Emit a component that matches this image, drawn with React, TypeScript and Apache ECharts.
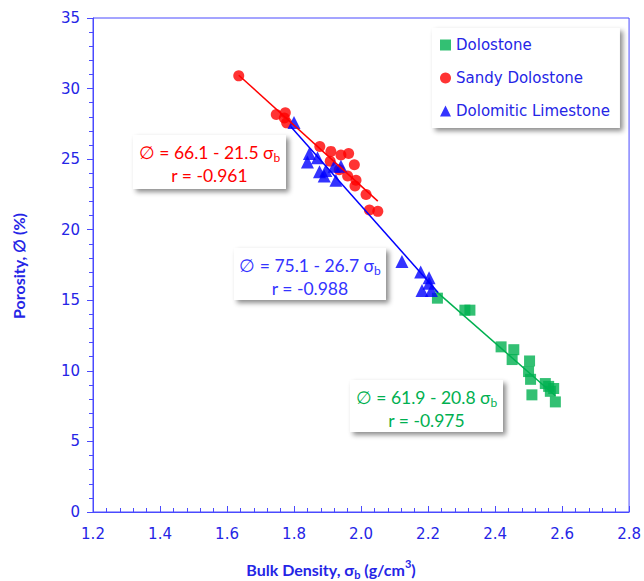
import React, { useEffect, useRef } from 'react';
import * as echarts from 'echarts';

// ---- Data ----
const dolostoneX = [2.228, 2.31, 2.325, 2.418, 2.456, 2.451, 2.503, 2.5, 2.506, 2.51, 2.55, 2.56, 2.575, 2.565, 2.58];
const dolostoneY = [15.15, 14.3, 14.3, 11.7, 11.5, 10.8, 10.7, 9.95, 9.4, 8.3, 9.1, 8.9, 8.75, 8.55, 7.8];

const sandyX = [1.635, 1.747, 1.774, 1.778, 1.771, 1.877, 1.91, 1.94, 1.963, 1.98, 1.908, 1.935, 1.96, 1.985, 1.982, 2.015, 2.025, 2.05];
const sandyY = [30.9, 28.16, 28.28, 27.57, 27.92, 25.9, 25.55, 25.3, 25.4, 24.6, 24.85, 24.25, 23.8, 23.5, 23.1, 22.5, 21.4, 21.3];

const limestoneX = [1.8, 1.846, 1.84, 1.87, 1.876, 1.895, 1.92, 1.925, 1.94, 1.89, 2.122, 2.178, 2.203, 2.203, 2.182, 2.21];
const limestoneY = [27.6, 25.4, 24.8, 25.1, 24.1, 24.2, 24.5, 23.5, 24.5, 23.8, 17.75, 17.0, 16.6, 16.2, 15.7, 15.7];

// regression lines: [intercept, slope], x range
const dolostoneFitCoef = [61.9, -20.8];
const dolostoneFitRange = [2.22, 2.58];
const sandyFitCoef = [66.1, -21.5];
const sandyFitRange = [1.635, 2.05];
const limestoneFitCoef = [75.1, -26.7];
const limestoneFitRange = [1.79, 2.23];

const seriesNames = ['Dolostone', 'Sandy Dolostone', 'Dolomitic Limestone'];
const xTickRange = [1.2, 2.8, 0.2];
const yTickRange = [0, 35, 5];

const GREEN = '#00b050';
const RED = '#ff0000';
const BLUE = '#0000ff';
const AXIS = '#4a4aff';
const TEXT = '#2525e6';

function pairs(xs: number[], ys: number[]) {
  return xs.map((x, i) => [x, ys[i]]);
}
function fitLine(coef: number[], range: number[]) {
  return range.map((x) => [x, coef[0] + coef[1] * x]);
}

function annotation(x: number, y: number, w: number, h: number, color: string, line1: string, sub: string, line2: string) {
  return {
    type: 'group',
    x,
    y,
    children: [
      {
        type: 'rect',
        shape: { x: 0, y: 0, width: w, height: h },
        style: {
          fill: '#ffffff',
          shadowBlur: 5,
          shadowColor: 'rgba(0,0,0,0.45)',
          shadowOffsetX: 3,
          shadowOffsetY: 3,
        },
        z: 100,
      },
      {
        type: 'text',
        x: w / 2,
        y: 6,
        style: {
          text: line1 + '{s|' + sub + '}',
          fill: color,
          fontFamily: 'Lato',
          fontSize: 17.5,
          lineHeight: 22,
          align: 'center',
          verticalAlign: 'top',
          rich: {
            s: { fontSize: 12, fontFamily: 'Lato', fill: color, color, lineHeight: 12, verticalAlign: 'bottom' },
          },
        },
        z: 101,
      },
      {
        type: 'text',
        x: w / 2,
        y: 30,
        style: {
          text: line2,
          fill: color,
          fontFamily: 'Lato',
          fontSize: 17.5,
          lineHeight: 20,
          align: 'center',
          verticalAlign: 'top',
        },
        z: 101,
      },
    ],
  };
}

export default function App() {
  const ref = useRef<HTMLDivElement>(null);
  useEffect(() => {
    if (!ref.current) return;
    const chart = echarts.init(ref.current, undefined, { renderer: 'svg' });
    const option: any = {
      animation: false,
      backgroundColor: '#ffffff',
      grid: {
        left: 93,
        right: 13,
        top: 18,
        bottom: 69,
        show: true,
        borderColor: AXIS,
        borderWidth: 1,
        backgroundColor: 'transparent',
      },
      legend: {
        data: [
          { name: seriesNames[0], icon: 'rect' },
          { name: seriesNames[1], icon: 'circle' },
          { name: seriesNames[2], icon: 'triangle' },
        ],
        orient: 'vertical',
        left: 432,
        top: 28,
        itemWidth: 11,
        itemHeight: 11,
        itemGap: 15,
        padding: [8, 10, 8, 8],
        backgroundColor: '#ffffff',
        shadowBlur: 5,
        shadowColor: 'rgba(0,0,0,0.45)',
        shadowOffsetX: 3,
        shadowOffsetY: 3,
        textStyle: { color: TEXT, fontFamily: 'DejaVu Sans', fontSize: 15, lineHeight: 18 },
        selectedMode: false,
        z: 50,
      },
      xAxis: {
        type: 'value',
        min: xTickRange[0],
        max: xTickRange[1],
        interval: xTickRange[2],
        axisLine: { show: true, lineStyle: { color: AXIS, width: 1 } },
        axisTick: { show: true, inside: true, length: 6, lineStyle: { color: AXIS } },
        minorTick: { show: true, splitNumber: 5, length: 4, lineStyle: { color: AXIS } },
        splitLine: { show: false },
        axisLabel: {
          color: TEXT,
          fontFamily: 'DejaVu Sans',
          fontSize: 15,
          margin: 14,
          formatter: (v: number) => v.toFixed(1),
        },
      },
      yAxis: {
        type: 'value',
        min: yTickRange[0],
        max: yTickRange[1],
        interval: yTickRange[2],
        axisLine: { show: true, lineStyle: { color: AXIS, width: 1 } },
        axisTick: { show: true, inside: false, length: 6, lineStyle: { color: AXIS } },
        minorTick: { show: true, splitNumber: 5, length: 4, lineStyle: { color: AXIS } },
        splitLine: { show: false },
        axisLabel: { color: TEXT, fontFamily: 'DejaVu Sans', fontSize: 15, margin: 13 },
      },
      series: [
        {
          name: 'fitDolostone',
          type: 'line',
          data: fitLine(dolostoneFitCoef, dolostoneFitRange),
          showSymbol: false,
          lineStyle: { color: GREEN, width: 1.5 },
          z: 2,
        },
        {
          name: seriesNames[0],
          type: 'scatter',
          data: pairs(dolostoneX, dolostoneY),
          symbol: 'rect',
          symbolSize: 11,
          itemStyle: { color: GREEN },
          z: 3,
        },
        {
          name: seriesNames[1],
          type: 'scatter',
          data: pairs(sandyX, sandyY),
          symbol: 'circle',
          symbolSize: 11,
          itemStyle: { color: RED },
          z: 3,
        },
        {
          name: 'fitLimestone',
          type: 'line',
          data: fitLine(limestoneFitCoef, limestoneFitRange),
          showSymbol: false,
          lineStyle: { color: BLUE, width: 1.5 },
          z: 4,
        },
        {
          name: seriesNames[2],
          type: 'scatter',
          data: pairs(limestoneX, limestoneY),
          symbol: 'triangle',
          symbolSize: 13,
          itemStyle: { color: BLUE },
          z: 4,
        },
        {
          name: 'fitSandy',
          type: 'line',
          data: fitLine(sandyFitCoef, sandyFitRange),
          showSymbol: false,
          lineStyle: { color: RED, width: 1.5 },
          z: 5,
        },
      ],
      graphic: [
        annotation(133, 135, 153, 54, RED, '\u2205 = 66.1 - 21.5 \u03c3', 'b', 'r = -0.961'),
        annotation(234, 248, 152, 52, '#3333ff', '\u2205 = 75.1 - 26.7 \u03c3', 'b', 'r = -0.988'),
        annotation(350, 380, 153, 52, '#00b050', '\u2205 = 61.9 - 20.8 \u03c3', 'b', 'r = -0.975'),
        {
          type: 'text',
          x: 331,
          y: 569,
          style: {
            text: 'Bulk Density, \u03c3{s|b} (g/cm{p|3})',
            fill: TEXT,
            fontFamily: 'Lato',
            fontWeight: 'bold',
            fontSize: 16,
            lineHeight: 22,
            align: 'center',
            verticalAlign: 'middle',
            rich: {
              s: { fontSize: 11, fontWeight: 'bold', fontFamily: 'Lato', lineHeight: 11, verticalAlign: 'bottom', fill: TEXT, color: TEXT },
              p: { fontSize: 11, fontWeight: 'bold', fontFamily: 'Lato', lineHeight: 11, verticalAlign: 'top', fill: TEXT, color: TEXT },
            },
          },
        },
        {
          type: 'text',
          x: 18,
          y: 266,
          rotation: Math.PI / 2,
          style: {
            text: 'Porosity, \u2205 (%)',
            fill: TEXT,
            fontFamily: 'Lato',
            fontWeight: 'bold',
            fontSize: 16,
            align: 'center',
            verticalAlign: 'middle',
          },
        },
      ],
    };
    chart.setOption(option);
    return () => chart.dispose();
  }, []);
  return <div ref={ref} style={{ position: 'fixed', left: 0, top: 0, width: 644, height: 581 }} />;
}
